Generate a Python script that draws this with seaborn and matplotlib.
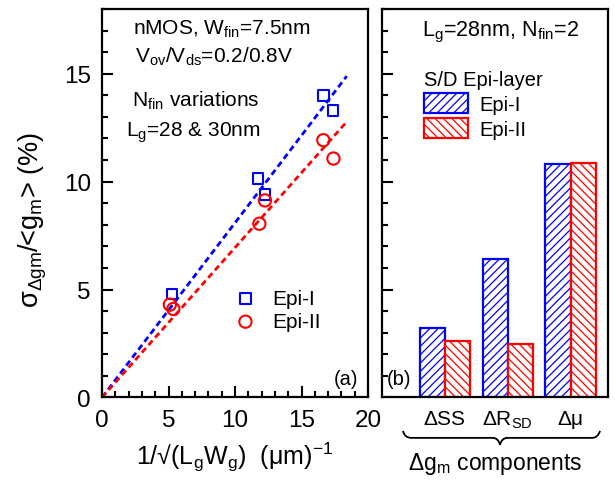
import numpy as np
import pandas as pd
import matplotlib
matplotlib.use("Agg")
import matplotlib.pyplot as plt
from matplotlib.patches import Patch, PathPatch
from matplotlib.path import Path
from matplotlib.ticker import MultipleLocator
import seaborn as sns

# (a) gm mismatch versus 1/sqrt(Lg*Wg)
epi1_x = [5.25, 11.75, 12.25, 16.65, 17.35]
epi1_y = [4.80, 10.15, 9.40, 14.00, 13.30]
epi2_x = [5.10, 5.36, 11.83, 12.25, 16.64, 17.40]
epi2_y = [4.30, 4.10, 8.05, 9.13, 11.92, 11.07]

# (b) gm variation components, Lg=28nm, Nfin=2
components = ["ΔSS", "ΔR$_{SD}$", "Δμ"]
epi1_comp = [3.2, 6.4, 10.8]
epi2_comp = [2.6, 2.5, 10.85]
series = ["Epi-I", "Epi-II"]

BLUE = "#0000ff"
RED = "#ff0000"

sns.set_theme(style="ticks")
plt.rcParams["font.family"] = ["Liberation Sans", "DejaVu Sans"]
plt.rcParams["mathtext.fontset"] = "custom"
plt.rcParams["mathtext.rm"] = "Liberation Sans"
plt.rcParams["mathtext.it"] = "Liberation Sans:italic"
plt.rcParams["mathtext.bf"] = "Liberation Sans:bold"
plt.rcParams["mathtext.default"] = "regular"
plt.rcParams["hatch.linewidth"] = 0.9
plt.rcParams["axes.linewidth"] = 1.6
for key in ["axes.edgecolor", "xtick.color", "ytick.color", "text.color",
            "axes.labelcolor"]:
    plt.rcParams[key] = "black"

fig = plt.figure(figsize=(6.15, 4.85), dpi=100)
ax1 = fig.add_axes([0.1659, 0.1784, 0.4325, 0.801])
ax2 = fig.add_axes([0.6211, 0.1784, 0.3675, 0.801])

# ---------- panel (a) ----------
fit_xmax = 18.4
for xs, ys, col in [(epi1_x, epi1_y, BLUE), (epi2_x, epi2_y, RED)]:
    xa, ya = np.asarray(xs), np.asarray(ys)
    slope = np.sum(xa * ya) / np.sum(xa * xa)  # least squares through origin
    xx = np.array([0.0, fit_xmax])
    sns.lineplot(x=xx, y=slope * xx, ax=ax1, color=col, lw=2.0,
                 linestyle=(0, (2.2, 1.4)), zorder=2)

sns.scatterplot(x=epi1_x, y=epi1_y, ax=ax1, marker="s", s=56,
                facecolor="none", edgecolor=BLUE, linewidth=1.5,
                label="Epi-I", zorder=3)
sns.scatterplot(x=epi2_x, y=epi2_y, ax=ax1, marker="o", s=78,
                facecolor="none", edgecolor=RED, linewidth=1.5,
                label="Epi-II", zorder=3)

ax1.set_xlim(0, 20)
ax1.set_ylim(0, 18)
ax1.xaxis.set_major_locator(MultipleLocator(5))
ax1.xaxis.set_minor_locator(MultipleLocator(1))
ax1.yaxis.set_major_locator(MultipleLocator(5))
ax1.yaxis.set_minor_locator(MultipleLocator(1))
ax1.tick_params(which="both", direction="in", width=1.5, top=False, right=False,
                labelsize=17.5, pad=8)
ax1.tick_params(which="major", length=8)
ax1.tick_params(which="minor", length=4)
ax1.set_xlabel("1/√(L$_g$W$_g$)  (μm)$^{-1}$", fontsize=18)
ax1.set_ylabel("σ$_{Δgm}$/<g$_m$> (%)", fontsize=19.5)
ax1.xaxis.set_label_coords(0.5, -0.11)
ax1.yaxis.set_label_coords(-0.2, 0.46)

leg1 = ax1.legend(loc="center left", bbox_to_anchor=(0.50, 0.225), frameon=False,
                  fontsize=15, handlelength=1.0, handletextpad=0.8,
                  labelspacing=0.2, borderpad=0, borderaxespad=0,
                  scatterpoints=1)

txt_kw = dict(transform=ax1.transAxes, fontsize=15, ha="left", va="baseline")
ax1.text(0.118, 0.936, "nMOS, W$_{fin}$=7.5nm", **txt_kw)
ax1.text(0.124, 0.864, "V$_{ov}$/V$_{ds}$=0.2/0.8V", **txt_kw)
ax1.text(0.113, 0.752, "N$_{fin}$ variations", **txt_kw)
ax1.text(0.09, 0.673, "L$_g$=28 & 30nm", **txt_kw)
ax1.text(0.965, 0.035, "(a)", transform=ax1.transAxes, fontsize=14.5,
         ha="right", va="baseline")

# ---------- panel (b) ----------
df = pd.DataFrame({
    "component": components * 2,
    "value": epi1_comp + epi2_comp,
    "layer": [series[0]] * 3 + [series[1]] * 3,
})
sns.barplot(data=df, x="component", y="value", hue="layer", ax=ax2,
            palette=[BLUE, RED], saturation=1, width=0.8, legend=False,
            linewidth=1.6)
hatches = ["////", "\\\\\\\\"]
for cont, col, h in zip(ax2.containers, [BLUE, RED], hatches):
    for bar in cont:
        bar.set_facecolor("white")
        bar.set_edgecolor(col)
        bar.set_hatch(h)
        bar.set_linewidth(1.6)

ax2.set_xlim(-1.0, 2.594)
ax2.set_ylim(0, 18)
ax2.yaxis.set_major_locator(MultipleLocator(5))
ax2.yaxis.set_minor_locator(MultipleLocator(1))
ax2.tick_params(axis="y", which="both", direction="in", width=1.5, right=False,
                labelleft=False)
ax2.tick_params(axis="y", which="major", length=8)
ax2.tick_params(axis="y", which="minor", length=4)
ax2.tick_params(axis="x", length=0, pad=8, labelsize=15)
ax2.set_ylabel("")
ax2.set_xlabel("Δg$_m$ components", fontsize=16.5)
ax2.xaxis.set_label_coords(0.5, -0.135)

handles = [Patch(facecolor="white", edgecolor=BLUE, hatch=hatches[0], linewidth=1.6),
           Patch(facecolor="white", edgecolor=RED, hatch=hatches[1], linewidth=1.6)]
leg2 = ax2.legend(handles, series, title="S/D Epi-layer", loc="upper left",
                  bbox_to_anchor=(0.185, 0.842), frameon=False, fontsize=14.5,
                  title_fontsize=14.5, handlelength=2.2, handleheight=1.15,
                  handletextpad=0.55, labelspacing=0.2, borderpad=0,
                  borderaxespad=0, alignment="left")

ax2.text(0.175, 0.932, "L$_g$=28nm, N$_{fin}$=2", transform=ax2.transAxes,
         fontsize=15.5, ha="left", va="baseline")
ax2.text(0.02, 0.035, "(b)", transform=ax2.transAxes, fontsize=14.5,
         ha="left", va="baseline")

# curly brace grouping the component labels
verts = [(0.093, -0.086), (0.10, -0.104), (0.13, -0.104),
         (0.49, -0.104), (0.515, -0.104), (0.522, -0.122),
         (0.53, -0.104), (0.555, -0.104),
         (0.93, -0.104), (0.955, -0.104), (0.965, -0.086)]
codes = [Path.MOVETO, Path.CURVE3, Path.CURVE3,
         Path.LINETO, Path.CURVE3, Path.CURVE3,
         Path.CURVE3, Path.CURVE3,
         Path.LINETO, Path.CURVE3, Path.CURVE3]
brace = PathPatch(Path(verts, codes), transform=ax2.transAxes, fill=False,
                  edgecolor="black", linewidth=1.3, clip_on=False)
ax2.add_patch(brace)

fig.savefig("out.png", dpi=100)
